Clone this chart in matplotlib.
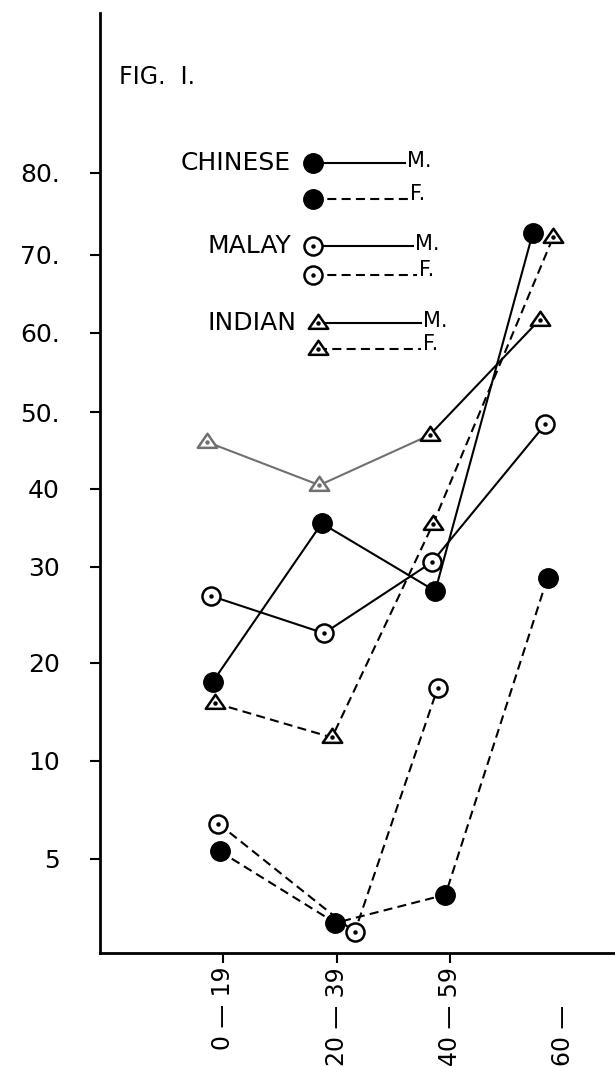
import numpy as np
import matplotlib
matplotlib.use("Agg")
import matplotlib.pyplot as plt
from matplotlib.path import Path

plt.rcParams["font.family"] = "DejaVu Sans"
plt.rcParams["lines.scale_dashes"] = False

# age groups on the x axis
age_groups = ["0 — 19", "20 — 39", "40 — 59", "60 —"]

# y axis ticks (the original axis is not evenly spaced)
y_ticks = [5, 10, 20, 30, 40, 50, 60, 70, 80]
y_tick_labels = ["5", "10", "20", "30", "40", "50.", "60.", "70.", "80."]

# values
chinese_m = [18.1, 35.6, 27.5, 72.7]
chinese_f = [5.4, 1.6, 3.1, 28.9]
malay_m = [27.0, 23.1, 30.6, 48.4]
malay_f = [6.8, 1.1, 17.4]
indian_m = [46.1, 40.5, 47.0, 61.7]
indian_f = [15.9, 12.4, 35.5, 72.2]

# in the drawing the points sit a little off their tick
chinese_m_dx = [-0.09, -0.13, -0.13, -0.27]
chinese_f_dx = [-0.03, -0.01, -0.04, -0.14]
malay_m_dx = [-0.11, -0.11, -0.16, -0.16]
malay_f_dx = [-0.04, 0.16, -0.11]
indian_m_dx = [-0.14, -0.15, -0.18, -0.21]
indian_f_dx = [-0.07, -0.04, -0.15, -0.09]

# hand drawn axis: value -> distance above x axis (px)
axis_vals = np.array([-100, 0, 5, 10, 20, 30, 40, 50, 60, 70, 80, 100, 200])
axis_pos = np.array([-1880, 0, 94, 192, 290, 386, 464, 541, 620, 698, 780, 940, 1740])


def fwd(v):
    return np.interp(v, axis_vals, axis_pos)


def inv(p):
    return np.interp(p, axis_pos, axis_vals)


tri = Path([(0, 0.9), (-1, -0.55), (1, -0.55), (0, 0.9)],
           [Path.MOVETO, Path.LINETO, Path.LINETO, Path.CLOSEPOLY])

SOLID = "-"
DASHED = (0, (6.5, 3.8))
LW = 1.5

styles = {
    "chinese": dict(marker="o", ms=14, mfc="black", mec="black", mew=1.0, dot=False),
    "malay": dict(marker="o", ms=13, mfc="white", mec="black", mew=1.8, dot=True),
    "indian": dict(marker=tri, ms=14, mfc="white", mec="black", mew=1.8, dot=True),
}


def draw_markers(ax, x, y, kind, color="black", z=4):
    s = styles[kind]
    ax.plot(x, y, linestyle="none", marker=s["marker"], ms=s["ms"],
            mfc=s["mfc"], mec=color, mew=s["mew"], zorder=z, clip_on=False)
    if s["dot"]:
        ax.plot(x, y, linestyle="none", marker="o", ms=2.2, color=color,
                zorder=z + 1, clip_on=False)


fig = plt.figure(figsize=(6.15, 10.67), dpi=100)
ax = fig.add_axes([100 / 615, (1067 - 953) / 1067, 515 / 615, 940 / 1067])
ax.set_yscale("function", functions=(fwd, inv))
ax.set_ylim(0, 100)
ax.set_xlim(-1.084, 3.454)

series = [
    (chinese_m, chinese_m_dx, "chinese", SOLID),
    (chinese_f, chinese_f_dx, "chinese", DASHED),
    (malay_m, malay_m_dx, "malay", SOLID),
    (malay_f, malay_f_dx, "malay", DASHED),
    (indian_f, indian_f_dx, "indian", DASHED),
]
for vals, dx, kind, ls in series:
    x = np.arange(len(vals)) + np.array(dx)
    ax.plot(x, vals, color="black", lw=LW, linestyle=ls, zorder=2)
    draw_markers(ax, x, vals, kind)

# indian male: first part came out grey in the print
x_im = np.arange(len(indian_m)) + np.array(indian_m_dx)
ax.plot(x_im[:3], indian_m[:3], color="#707070", lw=LW, zorder=2)
ax.plot(x_im[2:], indian_m[2:], color="black", lw=LW, zorder=2)
draw_markers(ax, x_im[:2], indian_m[:2], "indian", color="#707070")
draw_markers(ax, x_im[2:], indian_m[2:], "indian")

# axes styling
for side in ["top", "right"]:
    ax.spines[side].set_visible(False)
for side in ["left", "bottom"]:
    ax.spines[side].set_linewidth(2)

ax.set_yticks(y_ticks)
ax.set_yticklabels(y_tick_labels)
ax.yaxis.set_minor_locator(matplotlib.ticker.NullLocator())
ax.tick_params(axis="y", length=7, width=1.5, pad=22, labelsize=18)

ax.set_xticks(range(len(age_groups)))
ax.set_xticklabels(age_groups, rotation=90)
ax.tick_params(axis="x", length=7, width=1.5, pad=3, labelsize=17)
last = ax.xaxis.get_major_ticks()[3]
last.tick1line.set_visible(False)
last.set_pad(30)

# legend drawn by hand, in pixel coords of the page
lax = fig.add_axes([0, 0, 1, 1])
lax.set_xlim(0, 615)
lax.set_ylim(1067, 0)
lax.axis("off")

lax.text(119, 77, "FIG.  I.", fontsize=17, va="center", ha="left")

legend_rows = [
    ("CHINESE", "chinese", SOLID, "M.", 313, 163, 405),
    ("", "chinese", DASHED, "F.", 313, 199, 408),
    ("MALAY", "malay", SOLID, "M.", 313, 246, 413),
    ("", "malay", DASHED, "F.", 313, 275, 417),
    ("INDIAN", "indian", SOLID, "M.", 318, 323, 421),
    ("", "indian", DASHED, "F.", 318, 349, 421),
]
for name, kind, ls, sex, mx, my, xend in legend_rows:
    lax.plot([mx, xend], [my, my], color="black", lw=LW, linestyle=ls, zorder=2)
    draw_markers(lax, [mx], [my], kind)
    if name:
        lax.text(mx - 22, my, name, fontsize=18, ha="right", va="center")
    lax.text(xend + 2, my - (2 if sex == "M." else 5), sex, fontsize=15,
             ha="left", va="center")

fig.savefig("out.png", dpi=100, facecolor="white")
